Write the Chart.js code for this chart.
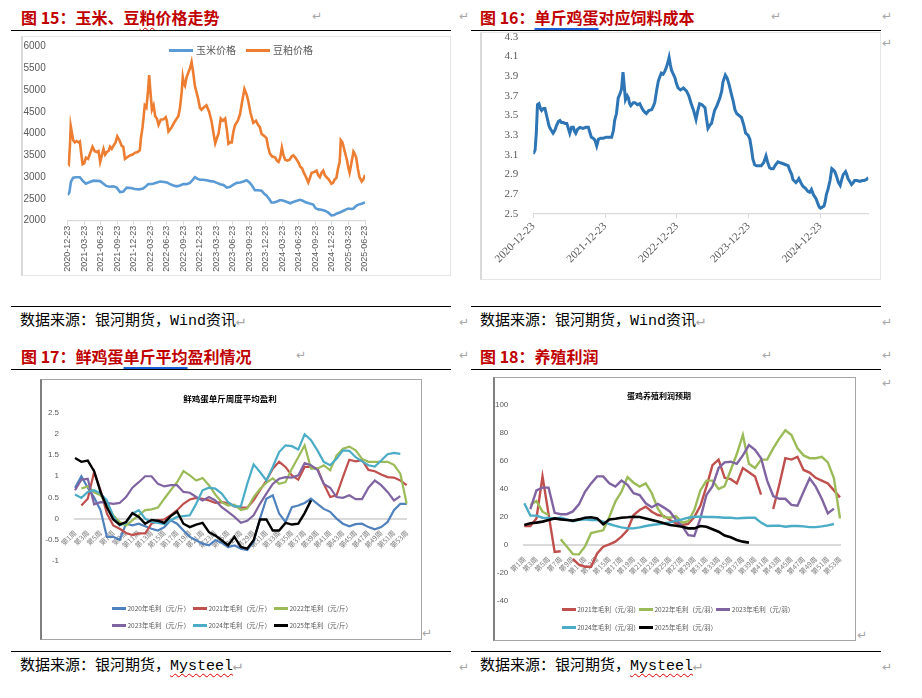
<!DOCTYPE html>
<html lang="zh-CN">
<head>
<meta charset="utf-8">
<title>玉米豆粕与蛋鸡盈利</title>
<script src="https://cdn.jsdelivr.net/npm/chart.js@4.4.1/dist/chart.umd.min.js"></script>
<style>
  html, body { margin: 0; padding: 0; background: #fff; }
  body { position: relative; width: 922px; height: 698px; overflow: hidden; font-family: "Noto Sans CJK SC", sans-serif; }
  .abs { position: absolute; white-space: nowrap; }
  .head { font-size: 16px; line-height: 18px; font-weight: 700; color: #c00000; }
  .rule { height: 0; border-top: 1.4px solid #000; }
  .src { font-size: 15px; line-height: 17px; color: #000; font-family: "Liberation Mono", "Noto Sans CJK SC", monospace; }
  .ret { font-family: "DejaVu Sans", sans-serif; font-size: 12px; line-height: 14px; color: #a6a6a6; }
  .frame { box-sizing: border-box; }
  .inner-title { font-weight: 700; color: #000; transform: translateX(-50%); }
  .legend-item { position: absolute; display: flex; align-items: center; white-space: nowrap; color: #595959; }
  .wavy { text-decoration: underline wavy #e00000; text-decoration-thickness: 1px; text-underline-offset: 3px; }
  .blue-ul { text-decoration: underline; text-decoration-color: #1f5fd6; text-decoration-thickness: 1.5px; text-underline-offset: 4px; }
</style>
</head>
<body>

<!-- headings -->
<div class="abs head" style="left:21px;top:8px">图 15：玉米、豆<span class="wavy">粕</span>价格走势</div>
<div class="abs head" style="left:480px;top:8px">图 16：<span class="blue-ul">单斤鸡蛋</span>对应饲料成本</div>
<div class="abs head" style="left:21px;top:347px">图 17：鲜鸡蛋<span class="blue-ul">单斤平均</span>盈利情况</div>
<div class="abs head" style="left:480px;top:347px">图 18：养殖利润</div>

<div class="abs rule" style="left:11px;top:30px;width:440px"></div>
<div class="abs rule" style="left:471px;top:30px;width:410px"></div>
<div class="abs rule" style="left:11px;top:369px;width:440px"></div>
<div class="abs rule" style="left:471px;top:369px;width:410px"></div>
<div class="abs rule" style="left:11px;top:306px;width:440px"></div>
<div class="abs rule" style="left:471px;top:306px;width:410px"></div>
<div class="abs rule" style="left:11px;top:651px;width:440px"></div>
<div class="abs rule" style="left:471px;top:651px;width:410px"></div>

<div class="abs src" style="left:20px;top:313px">数据来源：银河期货，Wind资讯<span style="color:#a6a6a6">↵</span></div>
<div class="abs src" style="left:480px;top:313px">数据来源：银河期货，Wind资讯<span style="color:#a6a6a6">↵</span></div>
<div class="abs src" style="left:20px;top:658px">数据来源：银河期货，<span class="wavy">Mysteel</span><span style="color:#a6a6a6">↵</span></div>
<div class="abs src" style="left:480px;top:658px">数据来源：银河期货，<span class="wavy">Mysteel</span><span style="color:#a6a6a6">↵</span></div>

<div class="abs ret" style="left:312px;top:9px">↵</div>
<div class="abs ret" style="left:459px;top:9px">↵</div>
<div class="abs ret" style="left:771px;top:9px">↵</div>
<div class="abs ret" style="left:882px;top:9px">↵</div>
<div class="abs ret" style="left:882px;top:36px">↵</div>
<div class="abs ret" style="left:459px;top:315px">↵</div>
<div class="abs ret" style="left:882px;top:315px">↵</div>
<div class="abs ret" style="left:296px;top:348px">↵</div>
<div class="abs ret" style="left:459px;top:348px">↵</div>
<div class="abs ret" style="left:762px;top:348px">↵</div>
<div class="abs ret" style="left:882px;top:348px">↵</div>
<div class="abs ret" style="left:882px;top:376px">↵</div>
<div class="abs ret" style="left:422px;top:626px">↵</div>
<div class="abs ret" style="left:857px;top:628px">↵</div>
<div class="abs ret" style="left:459px;top:660px">↵</div>
<div class="abs ret" style="left:882px;top:660px">↵</div>

<!-- chart frames -->
<div class="abs frame" style="left:21px;top:36px;width:430px;height:240px;border:1px solid #e6e6e6;border-left:2px solid #d9d9d9"></div>
<div class="abs frame" style="left:480px;top:32px;width:401px;height:248px;border:1px solid #e6e6e6;border-left:2px solid #d9d9d9"></div>
<div class="abs frame" style="left:40px;top:379px;width:382px;height:261px;border:1.5px solid #a6a6a6;border-left:2px solid #7f7f7f"></div>
<div class="abs frame" style="left:493px;top:377px;width:363px;height:264px;border:1.5px solid #a6a6a6;border-left:2px solid #7f7f7f"></div>

<div class="abs" style="left:22px;top:37px;width:429px;height:239px"><canvas id="c15"></canvas></div>
<div class="abs" style="left:481px;top:33px;width:400px;height:247px"><canvas id="c16"></canvas></div>
<div class="abs" style="left:42px;top:381px;width:378px;height:257px"><canvas id="c17"></canvas></div>
<div class="abs" style="left:495px;top:379px;width:359px;height:261px"><canvas id="c18"></canvas></div>

<div class="abs inner-title" style="left:230px;top:393px;font-size:8.5px;line-height:10px">鲜鸡蛋单斤周度平均盈利</div>
<div class="abs inner-title" style="left:659px;top:391px;font-size:8px;line-height:10px">蛋鸡养殖利润预期</div>

<script>
// ---------- 图15 玉米、豆粕价格 (元/吨), x = months after 2020-12-23 ----------
const dateTickMonths = [0, 3, 6, 9, 12, 15, 18, 21, 24, 27, 30, 33, 36, 39, 42, 45, 48, 51, 54];
const dateTicks = ['2020-12-23', '2021-03-23', '2021-06-23', '2021-09-23', '2021-12-23', '2022-03-23',
  '2022-06-23', '2022-09-23', '2022-12-23', '2023-03-23', '2023-06-23', '2023-09-23', '2023-12-23',
  '2024-03-23', '2024-06-23', '2024-09-23', '2024-12-23', '2025-03-23', '2025-06-23'];
const priceTicks = [2000, 2500, 3000, 3500, 4000, 4500, 5000, 5500, 6000];

const cornMonths = [0, 0.3, 0.6, 1.0, 1.5, 2.2, 2.7, 3.3, 3.8, 4.7, 5.9, 6.5, 7.0, 7.6, 8.3, 8.9, 9.5, 10.1,
  10.7, 11.5, 12.2, 13.0, 13.7, 14.3, 14.6, 15.5, 16.2, 16.8, 17.5, 18.0, 18.6, 19.2, 19.8, 20.4, 21.0,
  21.6, 22.2, 22.7, 23.1, 23.6, 24.0, 24.6, 25.2, 25.9, 26.5, 27.1, 27.7, 28.3, 28.9, 29.5, 30.1, 30.7,
  31.3, 31.9, 32.5, 33.0, 33.4, 34.0, 34.6, 35.2, 35.7, 36.1, 36.6, 37.0, 37.5, 38.0, 38.5, 38.9, 39.6,
  40.4, 41.2, 42.2, 42.7, 43.1, 43.8, 44.6, 45.0, 45.5, 46.1, 46.7, 47.3, 47.9, 48.4, 48.8, 49.4, 50.1,
  50.6, 51.0, 51.5, 51.9, 52.4, 52.8, 53.4, 54.0];
const cornPrices = [2590, 2650, 2900, 2990, 3000, 3000, 2920, 2850, 2880, 2920, 2910, 2850, 2800, 2780,
  2790, 2760, 2660, 2670, 2760, 2750, 2730, 2720, 2740, 2800, 2840, 2850, 2880, 2900, 2890, 2880, 2840,
  2810, 2790, 2810, 2840, 2840, 2870, 2940, 3000, 2960, 2940, 2940, 2930, 2910, 2900, 2870, 2840, 2820,
  2760, 2780, 2830, 2870, 2880, 2900, 2930, 2880, 2820, 2700, 2700, 2690, 2620, 2580, 2500, 2420, 2420,
  2440, 2470, 2470, 2440, 2400, 2440, 2480, 2460, 2430, 2400, 2370, 2290, 2260, 2250, 2230, 2190, 2120,
  2130, 2160, 2190, 2230, 2260, 2280, 2270, 2280, 2340, 2370, 2390, 2420];

const soyMonths = [0, 0.2, 0.4, 0.55, 0.8, 1.0, 1.3, 1.6, 2.0, 2.2, 2.5, 2.7, 3.0, 3.3, 3.7, 4.0, 4.5, 4.9,
  5.3, 5.6, 5.9, 6.2, 6.5, 6.8, 7.1, 7.4, 7.7, 8.0, 8.3, 8.7, 9.0, 9.4, 9.8, 10.1, 10.4, 10.8, 11.3, 11.8,
  12.2, 12.7, 13.1, 13.3, 13.6, 14.0, 14.3, 14.6, 14.8, 15.0, 15.3, 15.6, 15.9, 16.2, 16.5, 16.9, 17.4,
  17.8, 18.0, 18.3, 18.6, 18.9, 19.3, 19.8, 20.1, 20.4, 20.7, 20.9, 21.1, 21.3, 21.6, 21.9, 22.2, 22.5,
  22.8, 23.1, 23.4, 23.7, 24.0, 24.3, 24.7, 25.2, 25.7, 26.1, 26.5, 26.8, 27.1, 27.4, 27.8, 28.2, 28.6,
  28.9, 29.2, 29.5, 29.8, 30.1, 30.4, 30.9, 31.3, 31.7, 32.1, 32.5, 32.8, 33.2, 33.7, 34.2, 34.6, 34.9,
  35.2, 35.7, 36.1, 36.4, 36.7, 37.1, 37.7, 38.0, 38.3, 38.6, 38.9, 39.2, 39.5, 39.9, 40.3, 40.7, 41.0,
  41.3, 41.6, 42.0, 42.2, 42.6, 42.9, 43.3, 43.7, 44.0, 44.3, 44.8, 45.2, 45.5, 45.8, 46.1, 46.4, 46.7,
  47.0, 47.4, 47.9, 48.2, 48.5, 48.8, 49.1, 49.4, 49.6, 49.9, 50.1, 50.4, 50.7, 51.0, 51.2, 51.5, 51.9,
  52.1, 52.4, 52.7, 53.0, 53.4, 53.7, 54.0];
const soyPrices = [3330, 3300, 3700, 4180, 4000, 3850, 3800, 3830, 3800, 3820, 3500, 3300, 3320, 3450,
  3420, 3520, 3700, 3600, 3580, 3600, 3350, 3500, 3650, 3520, 3580, 3600, 3700, 3650, 3720, 3800, 3940,
  3850, 3720, 3700, 3420, 3460, 3500, 3520, 3560, 3580, 3620, 3900, 4150, 4650, 4600, 5000, 5350, 5000,
  4550, 4650, 4400, 4350, 4200, 4320, 4330, 4380, 4300, 4050, 4100, 4150, 4250, 4350, 4400, 4600, 4950,
  5300, 5150, 5100, 5300, 5400, 5500, 5650, 5400, 5100, 4950, 4800, 4600, 4550, 4600, 4650, 4500, 4300,
  4000, 3780, 3900, 4000, 4350, 4300, 4350, 4100, 3770, 3800, 3800, 4050, 4200, 4300, 4450, 4750, 5030,
  4900, 4750, 4480, 4250, 4300, 4200, 4150, 4000, 3950, 3900, 3700, 3550, 3480, 3450, 3380, 3350, 3450,
  3680, 3500, 3400, 3380, 3400, 3480, 3500, 3460, 3400, 3320, 3250, 3200, 3100, 3000, 2880, 2980, 3100,
  3120, 3150, 3050, 3000, 3100, 3150, 3050, 3000, 2950, 2850, 2870, 2950, 2980, 3200, 3350, 3850, 3800,
  3700, 3550, 3400, 3200, 3100, 3300, 3590, 3550, 3450, 3200, 3000, 2900, 2950, 3050];

// ---------- 图16 单斤鸡蛋对应饲料成本 (元/斤), x = months after 2020-12-23 ----------
const costTickMonths = [0, 12, 24, 36, 48];
const costDateTicks = ['2020-12-23', '2021-12-23', '2022-12-23', '2023-12-23', '2024-12-23'];
const costTicks = [2.5, 2.7, 2.9, 3.1, 3.3, 3.5, 3.7, 3.9, 4.1, 4.3];
const eggMonths = [0, 0.3, 0.5, 0.7, 0.95, 1.2, 1.4, 1.7, 1.95, 2.3, 2.6, 2.8, 3.1, 3.3, 3.6, 3.9, 4.2, 4.45,
  4.7, 5.0, 5.3, 5.6, 5.9, 6.1, 6.4, 6.7, 6.9, 7.1, 7.4, 7.8, 8.3, 8.8, 9.2, 9.5, 9.7, 10.0, 10.3, 10.6,
  10.9, 11.3, 11.7, 12.2, 12.7, 13.1, 13.4, 13.6, 13.9, 14.2, 14.5, 14.75, 15.0, 15.2, 15.4, 15.7, 15.9,
  16.1, 16.3, 16.7, 17.0, 17.4, 17.8, 18.1, 18.4, 18.7, 18.9, 19.3, 19.8, 20.1, 20.3, 20.6, 20.9, 21.2,
  21.4, 21.7, 22.0, 22.3, 22.5, 22.7, 22.9, 23.1, 23.4, 23.7, 23.9, 24.2, 24.6, 25.1, 25.4, 25.6, 26.0,
  26.4, 26.8, 27.2, 27.5, 27.8, 28.2, 28.7, 29.0, 29.2, 29.5, 29.8, 30.1, 30.3, 30.7, 31.2, 31.5, 31.7,
  32.1, 32.4, 32.7, 33.1, 33.4, 33.7, 34.0, 34.4, 34.8, 35.2, 35.5, 35.9, 36.2, 36.5, 36.7, 37.0, 37.3,
  37.7, 38.1, 38.5, 38.9, 39.2, 39.5, 39.8, 40.1, 40.5, 40.9, 41.3, 41.8, 42.2, 42.6, 42.9, 43.2, 43.4,
  43.9, 44.2, 44.4, 44.8, 45.1, 45.5, 45.9, 46.2, 46.5, 46.8, 47.0, 47.3, 47.6, 47.8, 48.0, 48.3, 48.6,
  48.8, 49.0, 49.3, 49.6, 49.9, 50.1, 50.4, 50.7, 51.0, 51.3, 51.6, 51.8, 52.2, 52.4, 52.6, 52.9, 53.2,
  53.5, 53.7, 54.1, 54.6, 55.0, 55.3, 55.7, 56.0];
const eggFeedCost = [3.11, 3.15, 3.32, 3.61, 3.62, 3.57, 3.55, 3.57, 3.57, 3.48, 3.40, 3.37, 3.34, 3.32,
  3.35, 3.40, 3.44, 3.45, 3.43, 3.43, 3.42, 3.42, 3.36, 3.32, 3.38, 3.38, 3.34, 3.32, 3.36, 3.38, 3.37,
  3.38, 3.38, 3.32, 3.28, 3.27, 3.25, 3.19, 3.26, 3.27, 3.27, 3.28, 3.28, 3.28, 3.35, 3.45, 3.52, 3.68,
  3.72, 3.77, 3.94, 3.80, 3.66, 3.70, 3.68, 3.62, 3.60, 3.63, 3.63, 3.61, 3.62, 3.58, 3.55, 3.53, 3.52,
  3.55, 3.56, 3.60, 3.63, 3.75, 3.85, 3.90, 3.93, 3.92, 3.95, 4.00, 4.04, 4.09, 4.02, 3.96, 3.92, 3.88,
  3.83, 3.78, 3.76, 3.78, 3.76, 3.75, 3.70, 3.62, 3.55, 3.46, 3.55, 3.62, 3.61, 3.58, 3.45, 3.37, 3.40,
  3.42, 3.50, 3.55, 3.60, 3.68, 3.75, 3.84, 3.91, 3.88, 3.82, 3.72, 3.65, 3.56, 3.52, 3.50, 3.48, 3.40,
  3.32, 3.30, 3.26, 3.15, 3.06, 3.00, 2.99, 2.99, 2.99, 3.02, 3.09, 3.02, 2.97, 2.96, 2.96, 3.00, 3.03,
  3.02, 3.01, 3.00, 2.99, 2.94, 2.90, 2.85, 2.82, 2.84, 2.86, 2.81, 2.78, 2.76, 2.73, 2.72, 2.75, 2.70,
  2.68, 2.65, 2.60, 2.57, 2.56, 2.57, 2.58, 2.63, 2.70, 2.76, 2.84, 2.96, 2.95, 2.93, 2.88, 2.82, 2.79,
  2.86, 2.90, 2.93, 2.90, 2.86, 2.83, 2.80, 2.82, 2.84, 2.84, 2.83, 2.84, 2.84, 2.85, 2.87];

// ---------- 图17 / 图18 weekly ----------
const weekLabels = Array.from({ length: 53 }, (_, i) => '第' + (i + 1) + '周');

const profitTicks = [-1, -0.5, 0, 0.5, 1, 1.5, 2, 2.5];
const profit2020 = [0.73, 1.0, 0.73, 0.5, 0.2, -0.43, -0.43, -0.5, -0.12, -0.16, -0.12, -0.18, -0.24, -0.28,
  -0.2, -0.04, -0.12, -0.28, -0.43, -0.51, -0.59, -0.63, -0.51, -0.57, -0.67, -0.63, -0.71, -0.74, -0.55,
  0.0, 0.47, 0.55, 0.12, -0.08, 0.27, 0.31, 0.37, 0.47, 0.35, 0.23, 0.16, 0.0, -0.12, -0.18, -0.13, -0.12,
  -0.2, -0.25, -0.2, -0.08, 0.2, 0.35, 0.35];
const profit2021 = [null, 0.31, 0.47, 1.1, 0.67, 0.12, -0.16, -0.24, -0.34, -0.39, -0.35, -0.35, -0.12, -0.04,
  -0.02, 0.08, 0.2, 0.35, 0.45, 0.49, 0.47, 0.43, 0.37, 0.39, 0.37, 0.29, 0.26, 0.26, 0.43, 0.67, 0.9, 1.18,
  1.34, 1.22, 1.02, 0.92, 1.22, 1.22, 1.18, 0.82, 0.51, 0.55, 0.98, 1.39, 1.35, 1.38, 1.15, 1.12, 1.04, 0.98,
  0.97, 0.9, 0.79];
const profit2022 = [null, 0.71, 0.76, 0.62, 0.55, 0.35, 0.08, -0.08, -0.16, -0.04, 0.08, 0.2, 0.22, 0.26, 0.47,
  0.67, 0.86, 1.12, 1.02, 0.9, 0.96, 0.79, 0.57, 0.39, 0.31, 0.33, 0.2, 0.24, 0.51, 0.7, 0.85, 0.95, 0.82,
  0.86, 1.18, 1.45, 1.73, 1.18, 1.18, 1.26, 1.14, 1.49, 1.65, 1.7, 1.61, 1.41, 1.34, 1.34, 1.34, 1.34, 1.27,
  1.06, 0.35];
const profit2023 = [0.67, 0.92, 0.94, 0.34, 0.39, 0.37, 0.35, 0.37, 0.51, 0.73, 0.86, 1.0, 1.0, 0.82, 0.76,
  0.79, 0.79, 0.63, 0.61, 0.51, 0.43, 0.51, 0.43, 0.27, 0.16, 0.04, -0.1, -0.05, 0.08, 0.35, 0.59, 0.82, 0.94,
  0.98, 0.97, 1.02, 1.31, 1.26, 1.15, 0.82, 0.73, 0.51, 0.49, 0.55, 0.46, 0.46, 0.73, 0.9, 0.79, 0.63, 0.43,
  0.53];
const profit2024 = [0.57, 0.49, 0.63, 0.67, 0.59, 0.43, 0.05, -0.16, -0.1, 0.12, 0.2, 0.0, -0.08, -0.1, -0.13,
  -0.04, 0.04, 0.06, 0.08, 0.35, 0.67, 0.73, 0.71, 0.59, 0.39, 0.29, 0.29, 0.82, 1.28, 1.1, 0.9, 1.22, 1.57,
  1.73, 1.71, 1.63, 1.99, 1.85, 1.61, 1.34, 1.26, 1.41, 1.61, 1.6, 1.45, 1.35, 1.26, 1.23, 1.37, 1.52, 1.55,
  1.53];
const profit2025 = [1.43, 1.34, 1.37, 1.12, 0.63, 0.27, -0.02, -0.14, -0.08, 0.13, 0.04, -0.12, -0.03, -0.05,
  -0.1, 0.06, 0.17, -0.12, -0.2, -0.14, -0.1, -0.32, -0.4, -0.51, -0.63, -0.43, -0.67, -0.71, -0.51, -0.02,
  -0.02, -0.28, -0.28, -0.1, -0.14, -0.12, 0.13, 0.43];

const marginTicks = [-40, -20, 0, 20, 40, 60, 80, 100];
const margin2021 = [13.6, 13.6, 19, 49, 22, -5, -4.5, null, -10, -14, -15.5, -15.5, -6, -1.2, 0.5, 2.4, 6,
  10.7, 21.4, 25, 27.4, 23.8, 21.4, 20.7, 17.9, 15.5, 14.3, 15, 20, 28, 41.7, 57, 61, 48, 47, 44, 55, 52, 49,
  36, null, 25.7, 43, 62, 61, 63, 53.6, 51.7, 48, 46, 44, 39, 34];
const margin2022 = [null, 28.6, 31.4, 23.8, 21.4, null, 4, -1, -6.5, -6.7, -1, 8.5, 9.5, 10.5, 20, 31, 38,
  48.5, 44.5, 41.7, 44, 37, 26, 19.8, 19.5, 20.7, 16, 17, 25, 39, 46, 46, 40, 42, 53.6, 65, 78.6, 58, 55,
  61, 61, 69, 76, 82, 78.6, 69, 64, 62, 62, 63, 59, 47.6, 19];
const margin2023 = [null, 25.7, 39, 41, 41, 23, 22, 22, 24, 29, 38, 44, 49, 49, 44, 41.7, 46, 43, 37, 35.7,
  29.8, 27, 29.3, 26.7, 23.8, 17.9, 13.6, 7, 6.4, 19, 35.7, 42, 55, 59, 59.5, 58, 64, 71.4, 68, 62, 46, 35,
  33, 33, 28.6, 28, 38, 47.6, 41.7, 33, 22.6, 26];
const margin2024 = [29.8, 21, 21, 19.5, 19.3, 19, 19.5, 18.3, 17, 17.9, 18.3, 17.9, 17.9, 16.7, 15, 13.6,
  12.6, 11.9, 11.9, 12.6, 13.6, 14.3, 14.8, 15.5, 16.2, 17.4, 18.3, 19.5, 20.2, 20.2, 20, 20, 19.8, 19.5,
  19.5, 19, 19.3, 19.5, 19.5, 16, 13.6, 13.8, 13.8, 13, 13.6, 13.6, 13.3, 12.8, 12.8, 13.3, 14, 15];
const margin2025 = [14.3, 15.5, 16, 16.7, 17.9, 19, 18.3, 17.9, 17.4, 18.3, 19.5, 19.8, 19, 14.8, 18.3,
  18.8, 19.5, 19.8, 20.2, 20, 19, 17.9, 16.7, 15.5, 14.3, 13.8, 13, 11.9, 11.9, 13.6, 13, 11.2, 9.5, 6.7,
  5.5, 3.6, 2.4, 1.7];

// ---------- helpers ----------
const fitY = w => s => { s.width = w; s.paddingTop = 0; s.paddingBottom = 0; };
const fitX = h => s => { s.height = h; s.paddingLeft = 0; s.paddingRight = 0; };
const fixTicks = vals => s => { s.ticks = vals.map(v => ({ value: v })); };
const pts = (xs, ys) => xs.map((x, i) => ({ x: x, y: ys[i] }));

function series(label, data, color, width, idx, total) {
  return {
    label: label, data: data, borderColor: color, backgroundColor: color,
    borderWidth: width, pointRadius: 0, tension: 0, spanGaps: false,
    order: total - idx
  };
}

const base = {
  responsive: true,
  maintainAspectRatio: false,
  animation: false,
  events: [],
  plugins: { legend: { display: false }, tooltip: { enabled: false }, title: { display: false } }
};

function htmlLegend(chart, spots, st) {
  chart.data.datasets.forEach((ds, i) => {
    const item = document.createElement('div');
    item.className = 'legend-item';
    item.style.left = spots[i][0] + 'px';
    item.style.top = (spots[i][1] - st.font / 2 - 1) + 'px';
    item.style.fontSize = st.font + 'px';
    item.style.lineHeight = (st.font + 2) + 'px';
    const mark = document.createElement('span');
    mark.style.cssText = 'display:inline-block;width:' + st.line + 'px;height:' + st.thick +
      'px;background:' + ds.borderColor + ';margin-right:' + st.gap + 'px';
    item.appendChild(mark);
    item.appendChild(document.createTextNode(ds.label));
    document.body.appendChild(item);
  });
}

// ---------- 图15 ----------
const chart15 = new Chart(document.getElementById('c15'), {
  type: 'line',
  data: {
    datasets: [
      series('玉米价格', pts(cornMonths, cornPrices), '#5B9BD5', 2.6, 0, 2),
      series('豆粕价格', pts(soyMonths, soyPrices), '#ED7D31', 2.6, 1, 2)
    ]
  },
  options: Object.assign({}, base, {
    layout: { padding: { left: 0, top: 9.7, right: 86, bottom: 0 } },
    scales: {
      x: {
        type: 'linear', min: 0, max: 54,
        afterFit: fitX(55.3), afterBuildTicks: fixTicks(dateTickMonths),
        grid: { display: true, drawOnChartArea: false, drawTicks: true, tickLength: 4, color: '#d9d9d9' },
        border: { display: true, color: '#d9d9d9', width: 1.2 },
        ticks: {
          autoSkip: false, minRotation: 90, maxRotation: 90, padding: 1,
          color: '#595959', font: { family: 'Liberation Sans', size: 9 },
          callback: v => dateTicks[dateTickMonths.indexOf(v)]
        }
      },
      y: {
        min: 2000, max: 6000,
        afterFit: fitY(45.7), afterBuildTicks: fixTicks(priceTicks),
        grid: { display: false }, border: { display: false },
        ticks: { padding: 14, color: '#595959', font: { family: 'Liberation Sans', size: 10 }, callback: v => String(v) }
      }
    }
  })
});
htmlLegend(chart15, [[169, 50], [246, 50]], { font: 10, line: 24, thick: 3, gap: 3 });

// ---------- 图16 ----------
new Chart(document.getElementById('c16'), {
  type: 'line',
  data: { datasets: [series('单斤鸡蛋对应饲料成本', pts(eggMonths, eggFeedCost), '#2E75B6', 3, 0, 1)] },
  options: Object.assign({}, base, {
    layout: { padding: { left: 0, top: 3.7, right: 12.7, bottom: 0 } },
    scales: {
      x: {
        type: 'linear', min: 0, max: 56,
        afterFit: fitX(66), afterBuildTicks: fixTicks(costTickMonths),
        grid: { display: true, drawOnChartArea: false, drawTicks: true, tickLength: 4, color: '#d9d9d9' },
        border: { display: true, color: '#d9d9d9', width: 1.2 },
        ticks: {
          autoSkip: false, minRotation: 45, maxRotation: 45, padding: 2,
          color: '#595959', font: { family: 'Liberation Serif', size: 11 },
          callback: v => costDateTicks[costTickMonths.indexOf(v)]
        }
      },
      y: {
        min: 2.5, max: 4.3,
        afterFit: fitY(52.3), afterBuildTicks: fixTicks(costTicks),
        grid: { display: false }, border: { display: false },
        ticks: { padding: 7, color: '#595959', font: { family: 'Liberation Serif', size: 11 }, callback: v => v.toFixed(1) }
      }
    }
  })
});

// ---------- weekly chart options ----------
function weeklyScales(yMin, yMax, yTicks, yWidth) {
  return {
    x: {
      type: 'category', offset: false, position: { y: 0 },
      afterFit: fitX(0),
      grid: { display: false },
      border: { display: true, color: '#d9d9d9', width: 2 },
      ticks: {
        autoSkip: false, minRotation: 45, maxRotation: 45, padding: 2,
        color: '#7f7f7f', font: { family: 'Noto Sans CJK SC', size: 7 },
        callback: (v, i) => (i % 2 === 0 ? weekLabels[i] : '')
      }
    },
    y: {
      min: yMin, max: yMax,
      afterFit: fitY(yWidth), afterBuildTicks: fixTicks(yTicks),
      grid: { display: false }, border: { display: false },
      ticks: { padding: 8, color: '#595959', font: { family: 'Liberation Sans', size: 8 }, callback: v => String(v) }
    }
  };
}

// ---------- 图17 ----------
const colors17 = ['#4F81BD', '#C0504D', '#9BBB59', '#8064A2', '#4BACC6', '#000000'];
const chart17 = new Chart(document.getElementById('c17'), {
  type: 'line',
  data: {
    labels: weekLabels,
    datasets: [
      series('2020年毛利（元/斤）', profit2020, colors17[0], 2.2, 0, 6),
      series('2021年毛利（元/斤）', profit2021, colors17[1], 2.2, 1, 6),
      series('2022年毛利（元/斤）', profit2022, colors17[2], 2.2, 2, 6),
      series('2023年毛利（元/斤）', profit2023, colors17[3], 2.2, 3, 6),
      series('2024年毛利（元/斤）', profit2024, colors17[4], 2.2, 4, 6),
      series('2025年毛利（元/斤）', profit2025, colors17[5], 2.4, 5, 6)
    ]
  },
  options: Object.assign({}, base, {
    layout: { padding: { left: 0, top: 31.7, right: 13.3, bottom: 77 } },
    scales: weeklyScales(-1, 2.5, profitTicks, 33)
  })
});
htmlLegend(chart17, [[112, 608.3], [193, 608.3], [274, 608.3], [112, 625.7], [193, 625.7], [274, 625.7]],
  { font: 6.5, line: 14, thick: 2.5, gap: 1.5 });

// ---------- 图18 ----------
const colors18 = ['#C0504D', '#9BBB59', '#8064A2', '#4BACC6', '#000000'];
const chart18 = new Chart(document.getElementById('c18'), {
  type: 'line',
  data: {
    labels: weekLabels,
    datasets: [
      series('2021年毛利（元/羽）', margin2021, colors18[0], 2.4, 0, 5),
      series('2022年毛利（元/羽）', margin2022, colors18[1], 2.4, 1, 5),
      series('2023年毛利（元/羽）', margin2023, colors18[2], 2.4, 2, 5),
      series('2024年毛利（元/羽）', margin2024, colors18[3], 2.4, 3, 5),
      series('2025年毛利（元/羽）', margin2025, colors18[4], 2.6, 4, 5)
    ]
  },
  options: Object.assign({}, base, {
    layout: { padding: { left: 0, top: 26, right: 14, bottom: 39 } },
    scales: weeklyScales(-40, 100, marginTicks, 29.3)
  })
});
htmlLegend(chart18, [[561.7, 609.3], [639, 609.3], [716.3, 609.3], [561.7, 627.3], [639, 627.3]],
  { font: 6.5, line: 14, thick: 2.5, gap: 1.5 });
</script>
</body>
</html>
